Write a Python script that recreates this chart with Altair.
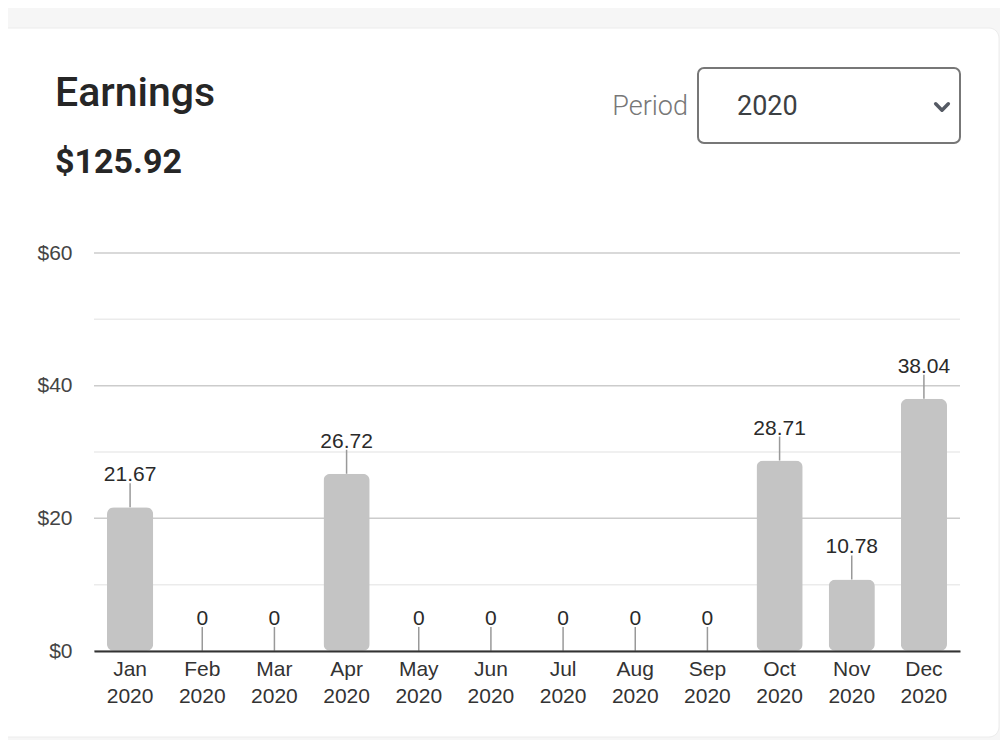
import altair as alt
import pandas as pd

# ---- data ----
months = ["Jan 2020", "Feb 2020", "Mar 2020", "Apr 2020", "May 2020", "Jun 2020",
          "Jul 2020", "Aug 2020", "Sep 2020", "Oct 2020", "Nov 2020", "Dec 2020"]
earnings = [21.67, 0, 0, 26.72, 0, 0, 0, 0, 0, 28.71, 10.78, 38.04]
grid_values = [0, 10, 20, 30, 40, 50, 60]
y_tick_values = [0, 20, 40, 60]
title_text = "Earnings"
total_text = "$125.92"
period_label = "Period"
period_value = "2020"

df = pd.DataFrame({"month": months, "value": earnings})
grid_df = pd.DataFrame({"value": grid_values})
one = pd.DataFrame({"k": [0]})

W, H = 866, 398

x_scale = alt.Scale(domain=months, paddingInner=0.36, paddingOuter=0.18)
y_scale = alt.Scale(domain=[0, 60], nice=False)

x_axis = alt.Axis(title=None, labelAngle=0, labelExpr="split(datum.label, ' ')",
                  labelFont="Liberation Sans", labelFontSize=21, labelColor="#333333",
                  labelLineHeight=27, labelPadding=7, labelBaseline="top",
                  ticks=False, tickSize=0, domainColor="#333333", domainWidth=2,
                  grid=False, zindex=1, labelOverlap=False)
y_axis = alt.Axis(title=None, values=y_tick_values, labelExpr="'$' + datum.value",
                  labelFont="Liberation Sans", labelFontSize=21, labelColor="#444444",
                  labelPadding=22, labelBaseline="middle", ticks=False, tickSize=0,
                  domain=False, grid=False, zindex=1)

xenc = alt.X("month:N", scale=x_scale, axis=x_axis, sort=months)
yenc = alt.Y("value:Q", scale=y_scale, axis=y_axis)

card = alt.Chart(one).mark_rect(fill="white", cornerRadius=10, stroke="#ececec",
                                strokeWidth=1).encode(
    x=alt.value(-110), x2=alt.value(905), y=alt.value(-225), y2=alt.value(484))

grid = alt.Chart(grid_df).mark_rule(strokeWidth=1.5).encode(
    y=yenc,
    color=alt.condition("datum.value % 20 == 0", alt.value("#cccccc"), alt.value("#ebebeb")))

bars = alt.Chart(df).mark_bar(color="#c4c4c4", cornerRadius=7).encode(x=xenc, y=yenc)

stems = alt.Chart(df).mark_rule(color="#999999", strokeWidth=1.5, y2Offset=-24).encode(
    x=xenc, y=yenc, y2=alt.Y2("value"))

labels = alt.Chart(df).mark_text(dy=-26, baseline="alphabetic", align="center",
                                 font="Liberation Sans", fontSize=21, color="#2a2a2a").encode(
    x=xenc, y=yenc, text=alt.Text("value:N"))

title = alt.Chart(one).mark_text(text=title_text, align="left", baseline="alphabetic",
                                 font="Roboto", fontSize=41, fontWeight=500,
                                 color="#262626").encode(x=alt.value(-39), y=alt.value(-147))

total = alt.Chart(one).mark_text(text=total_text, align="left", baseline="alphabetic",
                                 font="Roboto", fontSize=34, fontWeight=700,
                                 color="#262626").encode(x=alt.value(-39), y=alt.value(-80))

period_lbl = alt.Chart(one).mark_text(text=period_label, align="right", baseline="alphabetic",
                                      font="Roboto", fontSize=27, fontWeight=300,
                                      color="#777777").encode(x=alt.value(594), y=alt.value(-138))

box = alt.Chart(one).mark_rect(fill="white", stroke="#777777", strokeWidth=2,
                               cornerRadius=6).encode(
    x=alt.value(604), x2=alt.value(866), y=alt.value(-185), y2=alt.value(-110))

year_txt = alt.Chart(one).mark_text(text=period_value, align="left", baseline="alphabetic",
                                    font="Roboto", fontSize=27, fontWeight=400,
                                    color="#3c4043").encode(x=alt.value(643), y=alt.value(-138))

chevron = alt.Chart(one).mark_point(shape="M-1,-0.5L0,0.5L1,-0.5", filled=False, size=160,
                                    strokeWidth=3.5, color="#555a64", opacity=1,
                                    strokeCap="round", strokeJoin="round").encode(
    x=alt.value(848), y=alt.value(-146))

chart = alt.layer(card, grid, bars, stems, labels, title, total, period_lbl, box,
                  year_txt, chevron).properties(
    width=W, height=H,
    padding={"left": 86, "top": 245, "right": 40, "bottom": 89},
    autosize=alt.AutoSizeParams(type="none"),
    background="#f6f6f6",
).configure_view(stroke=None)

chart.save("out.html", embed_options={"renderer": "svg", "actions": False})
